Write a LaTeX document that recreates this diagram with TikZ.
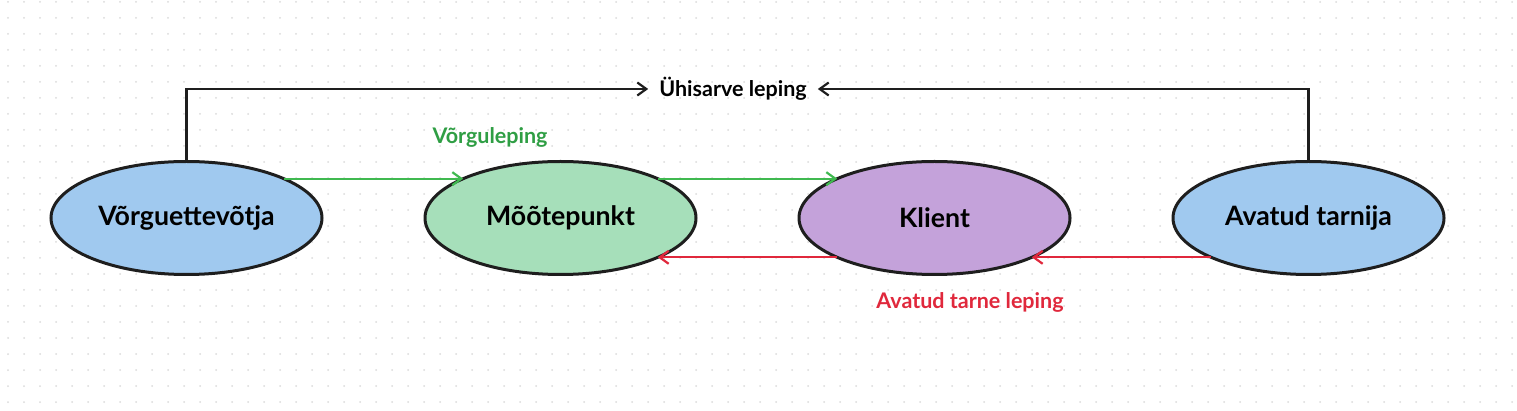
\documentclass[tikz,border=0pt]{standalone}
\usepackage{fontspec}
\setmainfont{Lato}
\usetikzlibrary{arrows.meta,positioning,shapes.geometric}
\definecolor{netblue}{RGB}{160,201,239}
\definecolor{pointgreen}{RGB}{166,223,186}
\definecolor{clientpurple}{RGB}{196,162,218}
\definecolor{linegreen}{RGB}{64,185,80}
\definecolor{textgreen}{RGB}{47,158,68}
\definecolor{linered}{RGB}{224,40,60}
\definecolor{dotgray}{RGB}{218,218,218}
\definecolor{ink}{RGB}{30,30,30}
\tikzset{
	-{Straight Barb[length=9pt,width=13pt]},auto,node distance =103pt,
	party/.style ={ellipse, draw=ink, line width=3pt, outer sep=0pt, minimum width=271pt, minimum height=113pt, font=\fontsize{26.7}{30}\selectfont\bfseries},
	deal/.style = {inner xsep=10pt, inner ysep=2pt, font=\fontsize{21.5}{24}\selectfont\bfseries},
	grn/.style = {draw=linegreen},
	rd/.style = {draw=linered}
}

\begin{document}
\begin{tikzpicture}[x=1pt,y=-1pt,line width=2.2pt]
	\useasboundingbox (0,0) rectangle (1517,411);
	% dotted canvas
	\foreach \i in {0,...,94}
		\foreach \j in {0,...,25}
			\fill[dotgray] (8+16*\i,2+16*\j) circle (1);

	\node[party,fill=netblue] (1) at (186.5,218) {Võrguettevõtja};
	\node[party,fill=pointgreen] (2) [right =of 1] {Mõõtepunkt};
	\node[party,fill=clientpurple] (3) [right =of 2] {Klient};
	\node[party,fill=netblue] (4) [right =of 3] {Avatud tarnija};

	\node[deal] (5) at (733,89) {Ühisarve leping};
	\node[deal,text=textgreen] (6) at (490,137) {Võrguleping};
	\node[deal,text=linered] (7) at (970,302) {Avatud tarne leping};

	\draw[draw=ink] (1.north) |- (5.west);
	\draw[draw=ink] (4.north) |- (5.east);
	\path (1.22) edge[grn] (2.158);
	\path (2.22) edge[grn] (3.158);
	\path (3.202) edge[rd] (2.338);
	\path (4.202) edge[rd] (3.338);
\end{tikzpicture}
\end{document}
